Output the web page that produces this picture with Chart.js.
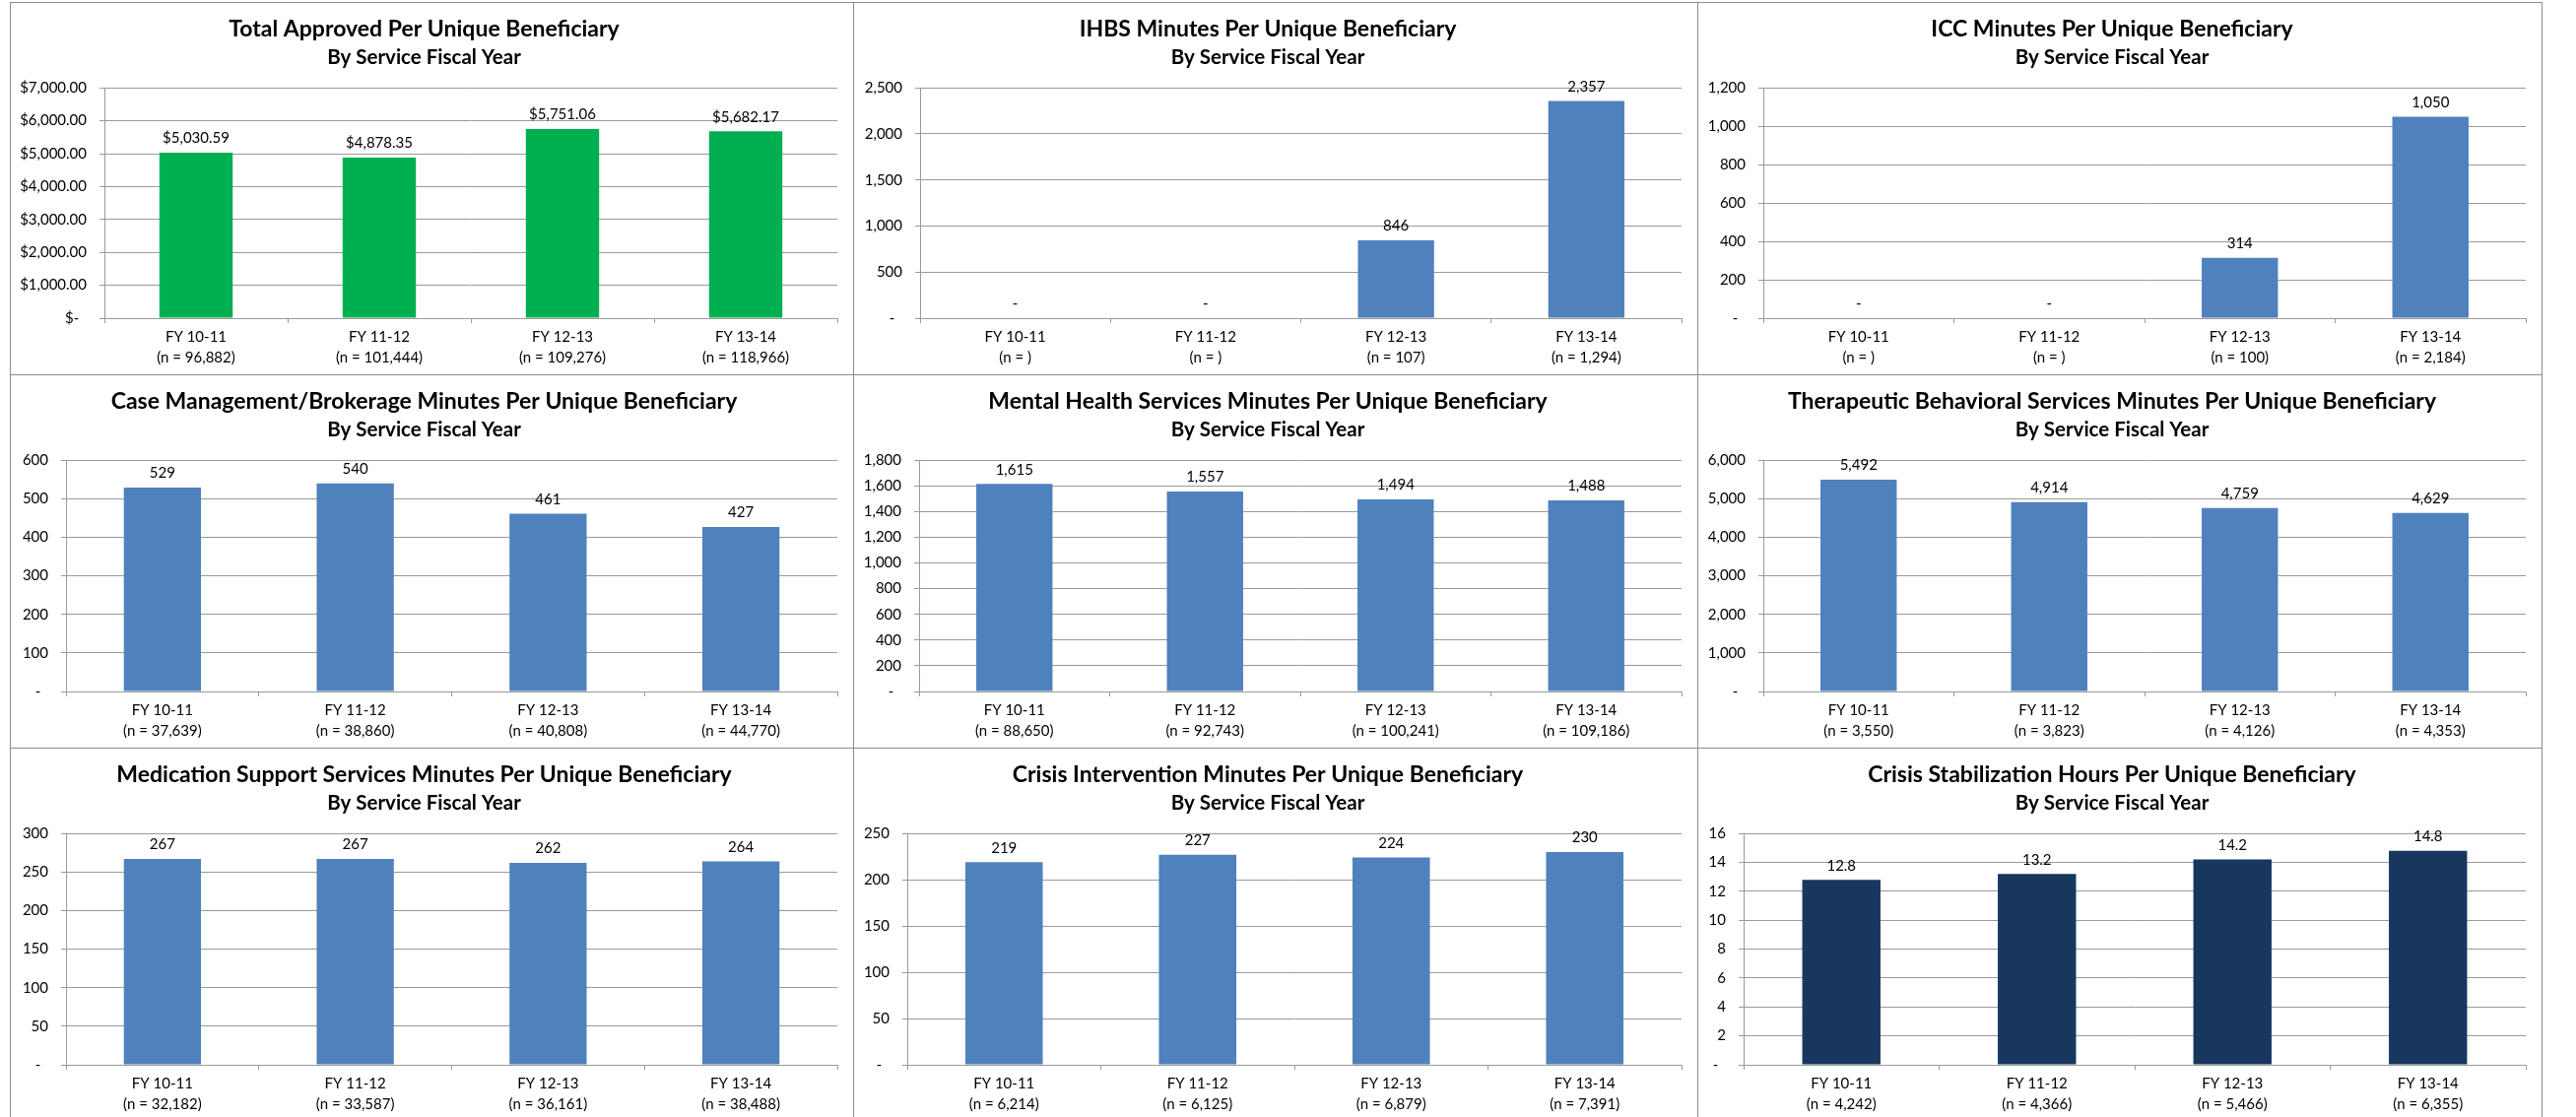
<!DOCTYPE html>
<html>
<head>
<meta charset="utf-8">
<script src="https://cdn.jsdelivr.net/npm/chart.js@4.4.1/dist/chart.umd.min.js"></script>
<style>
  html, body { margin: 0; padding: 0; background: #fff; }
  body { width: 2615px; height: 1134px; position: relative; overflow: hidden; }
  .panel { position: absolute; box-sizing: border-box; border: 1px solid #8c8c8c; background: #fff; }
  .panel canvas { display: block; }
</style>
</head>
<body>
<script>
// ---- data ----
var fiscalYears = ["FY 10-11", "FY 11-12", "FY 12-13", "FY 13-14"];
var subtitleText = "By Service Fiscal Year";

var totalApprovedValues = [5030.59, 4878.35, 5751.06, 5682.17];
var totalApprovedN = ["96,882", "101,444", "109,276", "118,966"];

var ihbsValues = [0, 0, 846, 2357];
var ihbsN = ["", "", "107", "1,294"];

var iccValues = [0, 0, 314, 1050];
var iccN = ["", "", "100", "2,184"];

var caseMgmtValues = [529, 540, 461, 427];
var caseMgmtN = ["37,639", "38,860", "40,808", "44,770"];

var mentalHealthValues = [1615, 1557, 1494, 1488];
var mentalHealthN = ["88,650", "92,743", "100,241", "109,186"];

var tbsValues = [5492, 4914, 4759, 4629];
var tbsN = ["3,550", "3,823", "4,126", "4,353"];

var medSupportValues = [267, 267, 262, 264];
var medSupportN = ["32,182", "33,587", "36,161", "38,488"];

var crisisIntValues = [219, 227, 224, 230];
var crisisIntN = ["6,214", "6,125", "6,879", "7,391"];

var crisisStabValues = [12.8, 13.2, 14.2, 14.8];
var crisisStabN = ["4,242", "4,366", "5,466", "6,355"];

// y axis ranges [max, step]
var totalApprovedAxis = [7000, 1000];
var ihbsAxis = [2500, 500];
var iccAxis = [1200, 200];
var caseMgmtAxis = [600, 100];
var mentalHealthAxis = [1800, 200];
var tbsAxis = [6000, 1000];
var medSupportAxis = [300, 50];
var crisisIntAxis = [250, 50];
var crisisStabAxis = [16, 2];

// ---- look ----
var FONT = "Lato, 'Liberation Sans', sans-serif";
var GREEN = "#00B050";
var BLUE = "#4F81BD";
var NAVY = "#17375E";
var GRID = "#9a9a9a";

var colLeft = [10, 866, 1723];
var colWidth = [857, 858, 858];
var rowTop = [2, 380, 759];
var rowHeight = [379, 380, 380];

function fmtMoney(v) {
  if (v === 0) return "$-  ";
  return "$" + v.toLocaleString("en-US", { minimumFractionDigits: 2, maximumFractionDigits: 2 });
}
function fmtInt(v) {
  if (v === 0) return "-  ";
  return v.toLocaleString("en-US", { maximumFractionDigits: 0 });
}
function fmtOneDec(v) {
  if (v === 0) return "-";
  return v.toFixed(1);
}
function fmtBarInt(v) {
  if (v === 0) return "-";
  return v.toLocaleString("en-US", { maximumFractionDigits: 0 });
}

function xLabels(nList) {
  return fiscalYears.map(function (fy, i) {
    return [fy, "(n = " + nList[i] + ")"];
  });
}

// value labels above each bar
var valueLabels = {
  id: "valueLabels",
  afterDatasetsDraw: function (chart, args, opts) {
    var ctx = chart.ctx;
    var meta = chart.getDatasetMeta(0);
    var values = chart.data.datasets[0].data;
    ctx.save();
    ctx.font = "15px " + FONT;
    ctx.fillStyle = "#000";
    ctx.textAlign = "center";
    ctx.textBaseline = "bottom";
    meta.data.forEach(function (bar, i) {
      ctx.fillText(opts.format(values[i]), bar.x, bar.y - 7);
    });
    ctx.restore();
  }
};

// axisX: width reserved left of the plot (y labels + ticks), as in the reference
var panels = [
  { title: "Total Approved Per Unique Beneficiary", values: totalApprovedValues, n: totalApprovedN, axis: totalApprovedAxis, color: GREEN, tick: fmtMoney, label: fmtMoney, axisX: 95 },
  { title: "IHBS Minutes Per Unique Beneficiary", values: ihbsValues, n: ihbsN, axis: ihbsAxis, color: BLUE, tick: fmtInt, label: fmtBarInt, axisX: 67 },
  { title: "ICC Minutes Per Unique Beneficiary", values: iccValues, n: iccN, axis: iccAxis, color: BLUE, tick: fmtInt, label: fmtBarInt, axisX: 66 },
  { title: "Case Management/Brokerage Minutes Per Unique Beneficiary", values: caseMgmtValues, n: caseMgmtN, axis: caseMgmtAxis, color: BLUE, tick: fmtInt, label: fmtBarInt, axisX: 56 },
  { title: "Mental Health Services Minutes Per Unique Beneficiary", values: mentalHealthValues, n: mentalHealthN, axis: mentalHealthAxis, color: BLUE, tick: fmtInt, label: fmtBarInt, axisX: 66 },
  { title: "Therapeutic Behavioral Services Minutes Per Unique Beneficiary", values: tbsValues, n: tbsN, axis: tbsAxis, color: BLUE, tick: fmtInt, label: fmtBarInt, axisX: 66 },
  { title: "Medication Support Services Minutes Per Unique Beneficiary", values: medSupportValues, n: medSupportN, axis: medSupportAxis, color: BLUE, tick: fmtInt, label: fmtBarInt, axisX: 56 },
  { title: "Crisis Intervention Minutes Per Unique Beneficiary", values: crisisIntValues, n: crisisIntN, axis: crisisIntAxis, color: BLUE, tick: fmtInt, label: fmtBarInt, axisX: 54 },
  { title: "Crisis Stabilization Hours Per Unique Beneficiary", values: crisisStabValues, n: crisisStabN, axis: crisisStabAxis, color: NAVY, tick: fmtInt, label: fmtOneDec, axisX: 46 }
];

panels.forEach(function (p, idx) {
  var col = idx % 3, row = Math.floor(idx / 3);
  var div = document.createElement("div");
  div.className = "panel";
  div.style.left = colLeft[col] + "px";
  div.style.top = rowTop[row] + "px";
  div.style.width = colWidth[col] + "px";
  div.style.height = rowHeight[row] + "px";
  var canvas = document.createElement("canvas");
  canvas.width = colWidth[col] - 2;
  canvas.height = rowHeight[row] - 2;
  div.appendChild(canvas);
  document.body.appendChild(div);

  new Chart(canvas, {
    type: "bar",
    data: {
      labels: xLabels(p.n),
      datasets: [{
        data: p.values,
        backgroundColor: p.color,
        barPercentage: 0.4,
        categoryPercentage: 1.0
      }]
    },
    options: {
      responsive: false,
      animation: false,
      events: [],
      layout: { padding: { left: 0, right: 16, top: 0, bottom: 2 } },
      plugins: {
        legend: { display: false },
        tooltip: { enabled: false },
        title: {
          display: true,
          text: p.title,
          color: "#000",
          font: { family: FONT, size: 23, weight: "bold", lineHeight: 1.2 },
          padding: { top: 13, bottom: 0 }
        },
        subtitle: {
          display: true,
          text: subtitleText,
          color: "#000",
          font: { family: FONT, size: 20.5, weight: "bold", lineHeight: 1.2 },
          padding: { top: 2, bottom: 19 }
        },
        valueLabels: { format: p.label }
      },
      scales: {
        x: {
          grid: { display: true, drawOnChartArea: false, drawTicks: true, tickLength: 5, color: GRID, offset: true },
          border: { display: true, color: GRID, width: 1 },
          ticks: { color: "#000", font: { family: FONT, size: 15, lineHeight: 1.4 }, padding: 4, maxRotation: 0, autoSkip: false }
        },
        y: {
          min: 0,
          max: p.axis[0],
          afterFit: function (scale) { scale.width = p.axisX; },
          grid: { color: GRID, lineWidth: 1, drawTicks: true, tickLength: 5 },
          border: { display: true, color: GRID, width: 1 },
          ticks: { stepSize: p.axis[1], color: "#000", font: { family: FONT, size: 15 }, padding: 13, callback: function (v) { return p.tick(v); } }
        }
      }
    },
    plugins: [valueLabels]
  });
});
</script>
</body>
</html>
